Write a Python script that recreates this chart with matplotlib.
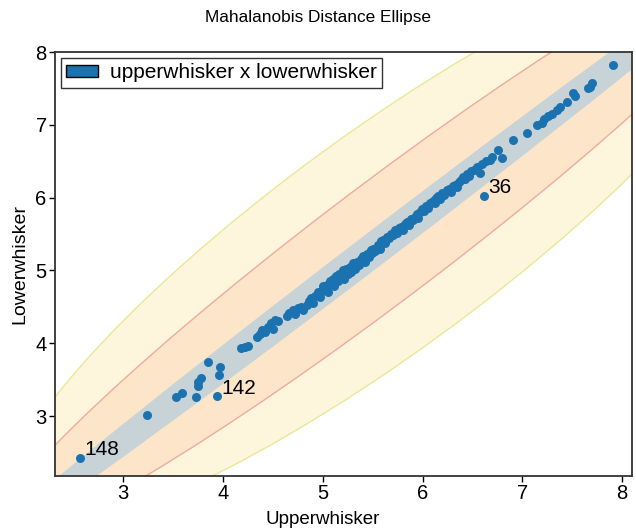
import numpy as np
import matplotlib
matplotlib.use("Agg")
import matplotlib.pyplot as plt
from matplotlib.patches import Ellipse, Patch

plt.rcParams['font.family'] = ['Liberation Sans', 'DejaVu Sans']

# upperwhisker (x) vs lowerwhisker (y)
upper = [2.57, 3.24, 3.53, 3.59, 3.73, 3.75, 3.75, 3.78, 3.85, 3.96, 3.97, 3.94,
         4.18, 4.22, 4.25, 4.34, 4.37, 4.39, 4.42, 4.45, 4.48, 4.50, 4.52, 4.55,
         4.64, 4.66, 4.70, 4.72, 4.75, 4.78, 4.80, 4.84, 4.86, 4.88, 4.90, 4.92, 4.95, 4.97, 4.99,
         5.00, 5.02, 5.04, 5.05, 5.07, 5.08, 5.10, 5.11, 5.13, 5.15, 5.16, 5.18, 5.20, 5.21, 5.23,
         5.25, 5.27, 5.28, 5.30, 5.32, 5.34, 5.36, 5.38, 5.40, 5.42, 5.44, 5.46, 5.48, 5.49, 5.50,
         5.52, 5.55, 5.57, 5.58, 5.60, 5.62, 5.64, 5.66, 5.68, 5.70, 5.72, 5.74, 5.76, 5.78, 5.80,
         5.82, 5.84, 5.86, 5.88, 5.90, 5.92, 5.94, 5.95, 5.97, 5.99,
         6.01, 6.03, 6.05, 6.07, 6.08, 6.10, 6.12, 6.14, 6.16, 6.18, 6.20, 6.22, 6.25, 6.27, 6.29,
         6.31, 6.33, 6.35, 6.37, 6.39, 6.41, 6.43, 6.45, 6.47, 6.49,
         6.52, 6.55, 6.58, 6.62, 6.60, 6.64, 6.68, 6.70, 6.76, 6.80, 6.91,
         7.05, 7.15, 7.20, 7.22, 7.26, 7.30, 7.35, 7.38, 7.45, 7.51, 7.53, 7.66, 7.70, 7.68, 7.91]
lower = [2.42, 3.01, 3.26, 3.32, 3.26, 3.41, 3.47, 3.52, 3.74, 3.56, 3.67, 3.27,
         3.93, 3.95, 3.96, 4.09, 4.12, 4.18, 4.15, 4.22, 4.28, 4.20, 4.32, 4.30,
         4.38, 4.42, 4.45, 4.40, 4.48, 4.50, 4.46, 4.52, 4.58, 4.62, 4.55, 4.65, 4.70, 4.64, 4.72,
         4.78, 4.74, 4.80, 4.70, 4.85, 4.82, 4.88, 4.78, 4.92, 4.85, 4.95, 4.90, 5.00, 4.88, 5.02,
         4.95, 5.05, 4.98, 5.10, 5.02, 5.12, 5.08, 5.15, 5.20, 5.12, 5.22, 5.18, 5.28, 5.24, 5.30,
         5.26, 5.35, 5.30, 5.40, 5.42, 5.38, 5.46, 5.44, 5.50, 5.48, 5.55, 5.52, 5.58, 5.60, 5.56,
         5.64, 5.66, 5.62, 5.70, 5.69, 5.74, 5.78, 5.72, 5.80, 5.84,
         5.82, 5.88, 5.86, 5.92, 5.93, 5.96, 5.92, 6.00, 6.02, 5.98, 6.06, 6.04, 6.10, 6.12, 6.08,
         6.16, 6.18, 6.14, 6.22, 6.24, 6.28, 6.26, 6.32, 6.30, 6.36,
         6.38, 6.42, 6.34, 6.02, 6.46, 6.50, 6.52, 6.56, 6.65, 6.54, 6.79,
         6.89, 7.00, 7.03, 7.08, 7.12, 7.15, 7.20, 7.24, 7.31, 7.44, 7.40, 7.50, 7.57, 7.52, 7.82]
labels = {0: "148", 11: "142", 122: "36"}

x = np.array(upper)
y = np.array(lower)
mx, my = x.mean(), y.mean()
cov = np.cov(x, y)
vals, vecs = np.linalg.eigh(cov)
angle = np.degrees(np.arctan2(vecs[1, 1], vecs[0, 1]))

fig, ax = plt.subplots(figsize=(6.36, 5.28), dpi=100)
fig.subplots_adjust(left=0.0865, right=0.994, bottom=0.0985, top=0.9015)

# bands: (semi-major, semi-minor, fill, edge)
bands = [(5.3, 1.3, '#fdf6dc', '#e6ea96'),
         (5.6, 0.7, '#fce5c9', '#f1aaa0'),
         (6.0, 0.2, '#c7d3d7', 'none')]
for a, b, fc, ec in bands:
    ax.add_patch(Ellipse((mx, my), 2 * a, 2 * b, angle=angle,
                         facecolor=fc, edgecolor=ec, lw=1.0, zorder=1))

ax.scatter(x, y, s=42, color='#1a72b0', zorder=3, linewidths=0)
for i, t in labels.items():
    ax.annotate(t, (x[i], y[i]), xytext=(3, 2), textcoords='offset points',
                fontsize=15, zorder=4)

ax.set_xlim(2.319, 8.10)
ax.set_ylim(2.176, 8.0)
ax.set_xticks([3, 4, 5, 6, 7, 8])
ax.set_yticks([3, 4, 5, 6, 7, 8])
ax.tick_params(labelsize=14.5, length=4, width=1, direction='out', pad=2)
for s in ax.spines.values():
    s.set_color('#333333')
    s.set_linewidth(1.3)

fig.text(0.5, 0.966, "Mahalanobis Distance Ellipse", fontsize=12.4,
         ha='center', va='center')
ax.set_xlabel("Upperwhisker", fontsize=13.5, labelpad=0)
ax.xaxis.set_label_coords(0.463, -0.083)
ax.set_ylabel("Lowerwhisker", fontsize=14, labelpad=5)

ax.legend(handles=[Patch(facecolor='#1a72b0', edgecolor='black', label='upperwhisker x lowerwhisker')],
          loc='upper left', fontsize=15, fancybox=False, edgecolor='#333333',
          framealpha=1, borderaxespad=0.3, handlelength=1.5, handleheight=0.5,
          borderpad=0.25, handletextpad=0.6)

fig.savefig("out.png")
